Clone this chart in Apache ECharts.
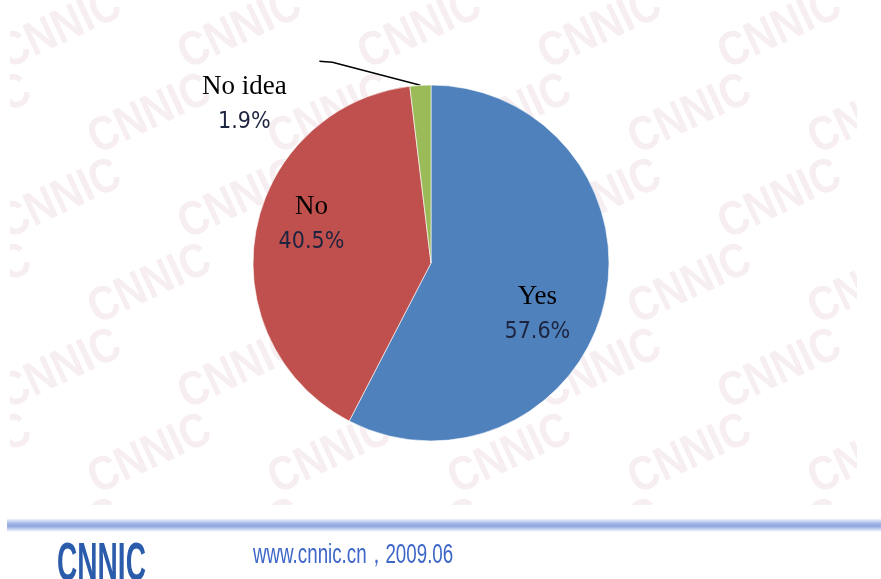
<!DOCTYPE html>
<html>
<head>
<meta charset="utf-8">
<script src="https://cdn.jsdelivr.net/npm/echarts@6/dist/echarts.min.js"></script>
<style>
  html, body { margin: 0; padding: 0; background: #ffffff; }
  #chart { width: 881px; height: 579px; }
</style>
</head>
<body>
<div id="chart"></div>
<script>
// Survey answers and their shares (percent)
const categories = ['Yes', 'No', 'No idea'];
const shares = [57.6, 40.5, 1.9];
const sliceColors = ['#4f81bd', '#c0504d', '#9bbb59'];
const brandText = 'CNNIC';
const footerText = 'www.cnnic.cn，2009.06';

const chart = echarts.init(document.getElementById('chart'), null, { renderer: 'canvas' });

// Faint tiled brand watermark behind the pie
const watermark = [];
for (let row = 0; row < 7; row++) {
  for (let col = -1; col < 6; col++) {
    watermark.push({
      type: 'text',
      x: 60 + col * 180 + (row % 2) * 90,
      y: 30 + row * 85,
      rotation: 25 * Math.PI / 180,
      scaleX: 0.85,
      silent: true,
      z: -10,
      style: {
        text: brandText,
        fill: '#f6eef1',
        font: 'bold 48px "Liberation Sans"',
        align: 'center',
        verticalAlign: 'middle'
      }
    });
  }
}

// White margins that bound the watermark area
const masks = [
  { type: 'rect', silent: true, z: -5, shape: { x: 0, y: 0, width: 10, height: 579 }, style: { fill: '#ffffff' } },
  { type: 'rect', silent: true, z: -5, shape: { x: 857, y: 0, width: 24, height: 579 }, style: { fill: '#ffffff' } },
  { type: 'rect', silent: true, z: -5, shape: { x: 0, y: 505, width: 881, height: 74 }, style: { fill: '#ffffff' } }
];

// Footer: rule, logo and site/date line
const footer = [
  {
    type: 'rect', silent: true, z: -4,
    shape: { x: 7, y: 519, width: 874, height: 13 },
    style: {
      fill: new echarts.graphic.LinearGradient(0, 0, 0, 1, [
        { offset: 0, color: '#eef2fb' },
        { offset: 0.35, color: '#a3b6e6' },
        { offset: 0.55, color: '#8ea6e0' },
        { offset: 1, color: '#ffffff' }
      ])
    }
  },
  {
    type: 'text', silent: true, z: -4,
    x: 57, y: 538, scaleX: 0.52,
    style: { text: brandText, fill: '#2b5bab', font: 'bold 54px "Liberation Sans"', align: 'left', verticalAlign: 'top' }
  },
  {
    type: 'text', silent: true, z: -4,
    x: 253, y: 541, scaleX: 0.67,
    style: { text: footerText, fill: '#3d66c8', font: '28px "Liberation Sans"', align: 'left', verticalAlign: 'top' }
  }
];

// Per-slice label placement
const labelPlacement = [
  { position: 'inside', offset: [17, 29] },
  { position: 'inside', offset: [-29, -23] },
  { position: 'outside' }
];

const pieData = categories.map((name, i) => ({
  name: name,
  value: shares[i],
  itemStyle: { color: sliceColors[i] },
  label: labelPlacement[i],
  labelLine: { show: i === 2 }
}));

chart.setOption({
  backgroundColor: '#ffffff',
  animation: false,
  graphic: { elements: watermark.concat(masks, footer) },
  series: [{
    type: 'pie',
    center: [431, 263],
    radius: 178,
    startAngle: 90,
    clockwise: true,
    avoidLabelOverlap: false,
    itemStyle: { borderColor: '#ffffff', borderWidth: 0.6 },
    emphasis: { disabled: true },
    label: {
      show: true,
      formatter: '{n|{b}}\n{p|{c}%}',
      rich: {
        n: { fontFamily: 'Liberation Serif', fontSize: 27, color: '#000000', lineHeight: 36, align: 'center' },
        p: { fontFamily: 'DejaVu Sans Condensed', fontSize: 23, color: '#1d2440', lineHeight: 34, align: 'center' }
      }
    },
    labelLine: {
      show: false,
      lineStyle: { color: '#000000', width: 1.5 }
    },
    labelLayout: function (params) {
      if (params.dataIndex !== 2 || !params.labelLinePoints) return {};
      const p = params.labelLinePoints[0];
      return {
        x: p[0] - 176,
        y: p[1] + 19,
        align: 'center',
        verticalAlign: 'middle',
        labelLinePoints: [
          [p[0], p[1]],
          [p[0] - 88, p[1] - 23],
          [p[0] - 101, p[1] - 24]
        ]
      };
    },
    data: pieData
  }]
});
</script>
</body>
</html>
